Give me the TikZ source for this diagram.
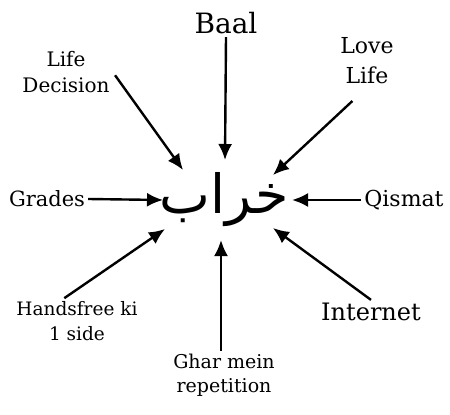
\documentclass[tikz,border=0pt]{standalone}
\usepackage{fontspec}
\setmainfont{DejaVu Serif}
\newfontfamily\urdufont[Script=Arabic]{DejaVu Sans}
\TeXXeTstate=1
\usepackage{tikz}
\usetikzlibrary{arrows.meta}
\tikzset{
  causelabel/.style={
    align=center, inner sep=3pt, font=\fontsize{20pt}{26pt}\selectfont
  },
  causearrow/.style={
    -{Latex[length=16pt,width=14pt]}, line width=2.4pt
  },
  centerword/.style={
    inner sep=0pt, font=\urdufont\fontsize{54pt}{60pt}\selectfont
  },
}

\begin{document}
\begin{tikzpicture}[x=1pt, y=-1pt]
  \useasboundingbox (0,0) rectangle (450,415);

  % ── Centre word ──
  \node[centerword] (kharab) at (224,200) {\beginR خراب\endR};

  % ── Causes ──
  \node[causelabel, font=\fontsize{28pt}{32pt}\selectfont] (baal) at (226,23) {Baal};
  \node[causelabel] (lifedec) at (66,72) {Life\\Decision};
  \node[causelabel, font=\fontsize{22pt}{30pt}\selectfont] (lovelife) at (367,61) {Love\\Life};
  \node[causelabel, font=\fontsize{21pt}{26pt}\selectfont] (grades) at (47,199) {Grades};
  \node[causelabel, font=\fontsize{22pt}{26pt}\selectfont] (qismat) at (404,200) {Qismat};
  \node[causelabel, font=\fontsize{18.5pt}{25pt}\selectfont] (handsfree) at (77,321) {Handsfree ki\\1 side};
  \node[causelabel, font=\fontsize{24pt}{30pt}\selectfont] (internet) at (371,312) {Internet};
  \node[causelabel, font=\fontsize{19pt}{24pt}\selectfont] (ghar) at (224,375) {Ghar mein\\repetition};

  % ── Arrow tips ──
  \coordinate (tipBaal) at (225,160);
  \coordinate (tipLD)   at (183,170);
  \coordinate (tipLL)   at (273,175);
  \coordinate (tipGr)   at (163,200);
  \coordinate (tipQi)   at (292,200);
  \coordinate (tipHf)   at (165,229);
  \coordinate (tipIn)   at (273,228);
  \coordinate (tipGh)   at (221,240);

  % ── Arrows ──
  \draw[causearrow] (baal.south) -- (tipBaal);
  \draw[causearrow, shorten <=4pt] (lifedec.east) -- (tipLD);
  \draw[causearrow, shorten <=20pt] (lovelife.south) -- (tipLL);
  \draw[causearrow] (grades.east) -- (tipGr);
  \draw[causearrow] (qismat.west) -- (tipQi);
  \draw[causearrow] (handsfree.119) -- (tipHf);
  \draw[causearrow] (internet.north) -- (tipIn);
  \draw[causearrow] (ghar.north -| tipGh) -- (tipGh);
\end{tikzpicture}
\end{document}
